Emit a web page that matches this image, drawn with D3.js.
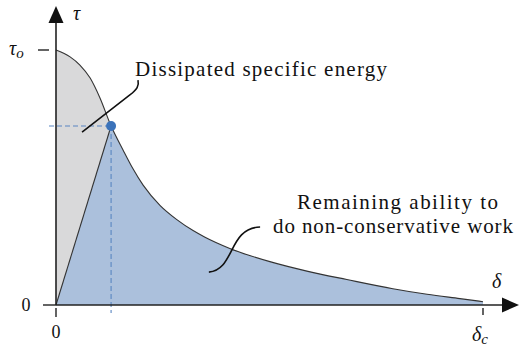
<!DOCTYPE html>
<html><head><meta charset="utf-8">
<script src="https://cdn.jsdelivr.net/npm/d3@7"></script>
<style>
html,body{margin:0;padding:0;background:#fff;}
</style></head>
<body>
<svg id="chart" width="524" height="349"></svg>
<script>
// normalized separation δ/δc and traction τ/τo
const delta = [0, 0.033, 0.056, 0.080, 0.103, 0.129, 0.157, 0.180, 0.204, 0.244, 0.283, 0.321, 0.349, 0.407, 0.501, 0.590, 0.681, 0.789, 0.869, 0.946, 1.0];
const tau   = [1.0, 0.973, 0.941, 0.890, 0.812, 0.702, 0.608, 0.535, 0.470, 0.390, 0.335, 0.292, 0.266, 0.222, 0.170, 0.132, 0.100, 0.064, 0.042, 0.025, 0.013];
const peakIndex = 5;
const xTickLabels = ["0", "δc"];
const yTickLabels = ["0", "τo"];
const labels = ["Dissipated specific energy", "Remaining ability to", "do non-conservative work"];

const svg = d3.select("#chart");
const x = d3.scaleLinear().domain([0, 1]).range([56, 483]);
const y = d3.scaleLinear().domain([0, 1]).range([305, 50]);
const pts = delta.map((d, i) => [d, tau[i]]);
const peak = pts[peakIndex];

const curve = d3.curveMonotoneX;
const area = d3.area().x(d => x(d[0])).y0(y(0)).y1(d => y(d[1])).curve(curve);
const line = d3.line().x(d => x(d[0])).y(d => y(d[1])).curve(curve);

const defs = svg.append("defs");
defs.append("clipPath").attr("id", "left").append("rect")
  .attr("x", x(0)).attr("y", 0).attr("width", x(peak[0]) - x(0)).attr("height", 349);
defs.append("clipPath").attr("id", "right").append("rect")
  .attr("x", x(peak[0])).attr("y", 0).attr("width", 524).attr("height", 349);

const gray = "#d9d9da", blue = "#abc0dc", dot = "#3b73ba";

svg.append("path").attr("d", area(pts)).attr("fill", gray).attr("clip-path", "url(#left)");
svg.append("path").attr("d", area(pts)).attr("fill", blue).attr("clip-path", "url(#right)");
svg.append("path")
  .attr("d", d3.line().x(d => x(d[0])).y(d => y(d[1]))([[0, 0], peak, [peak[0], 0]]) + "Z")
  .attr("fill", blue);

// curve
svg.append("path").attr("d", line(pts)).attr("fill", "none").attr("stroke", "#333").attr("stroke-width", 1.1);
// elastic line
svg.append("line").attr("x1", x(0)).attr("y1", y(0)).attr("x2", x(peak[0])).attr("y2", y(peak[1]))
  .attr("stroke", "#333").attr("stroke-width", 1.1);

// dashed guides
svg.append("line").attr("x1", x(0) - 7).attr("x2", x(peak[0])).attr("y1", y(peak[1])).attr("y2", y(peak[1]))
  .attr("stroke", "#5a86c2").attr("stroke-width", 1.1).attr("stroke-dasharray", "5,3");
svg.append("line").attr("x1", x(peak[0])).attr("x2", x(peak[0])).attr("y1", y(peak[1])).attr("y2", y(0) + 8)
  .attr("stroke", "#5a86c2").attr("stroke-width", 1.1).attr("stroke-dasharray", "5,3");

// axes
svg.append("line").attr("x1", x(0)).attr("x2", 505).attr("y1", y(0)).attr("y2", y(0)).attr("stroke", "#222").attr("stroke-width", 1.6);
svg.append("line").attr("x1", x(0)).attr("x2", x(0)).attr("y1", y(0)).attr("y2", 20).attr("stroke", "#222").attr("stroke-width", 1.6);
svg.append("path").attr("d", `M519,${y(0)} L502,${y(0) - 7.5} L502,${y(0) + 7.5} Z`).attr("fill", "#111");
svg.append("path").attr("d", `M${x(0)},6 L${x(0) - 7.5},23 L${x(0) + 7.5},23 Z`).attr("fill", "#111");

// ticks
svg.append("line").attr("x1", x(0) - 13).attr("x2", x(0)).attr("y1", y(0)).attr("y2", y(0)).attr("stroke", "#222").attr("stroke-width", 1.4);
svg.append("line").attr("x1", x(0) - 18).attr("x2", x(0) - 7).attr("y1", y(1)).attr("y2", y(1)).attr("stroke", "#222").attr("stroke-width", 1.4);
svg.append("line").attr("x1", x(0)).attr("x2", x(0)).attr("y1", y(0) + 3).attr("y2", y(0) + 12).attr("stroke", "#222").attr("stroke-width", 1.4);
svg.append("line").attr("x1", x(1)).attr("x2", x(1)).attr("y1", y(0) + 3).attr("y2", y(0) + 10).attr("stroke", "#222").attr("stroke-width", 1.4);

// point
svg.append("circle").attr("cx", x(peak[0])).attr("cy", y(peak[1])).attr("r", 5).attr("fill", dot);

function txt(xp, yp, size) {
  return svg.append("text").attr("x", xp).attr("y", yp)
    .attr("font-family", "serif")
    .style("font-family", "serif").style("font-size", size + "px").style("fill", "#111");
}

// tick labels
txt(26, y(0) + 6, 18).attr("text-anchor", "middle").text(yTickLabels[0]);
txt(x(0), y(0) + 33, 18).attr("text-anchor", "middle").text(xTickLabels[0]);
const t1 = txt(9, y(1) + 5, 20).style("font-style", "italic");
t1.append("tspan").text(yTickLabels[1][0]);
t1.append("tspan").style("font-size", "15px").attr("dy", 3).text(yTickLabels[1][1]);
const t2 = txt(472, y(0) + 36, 20).style("font-style", "italic");
t2.append("tspan").text(xTickLabels[1][0]);
t2.append("tspan").style("font-size", "15px").attr("dy", 3).text(xTickLabels[1][1]);

// axis names
txt(73, 20, 20).style("font-style", "italic").text("τ");
txt(492, 288, 20).style("font-style", "italic").text("δ");

// annotations (anchor points in data units)
const lead1 = [[0.061, 0.678], [0.173, 0.824], [0.190, 0.845], [0.195, 0.860], [0.192, 0.882]];
const lead2 = [[0.358, 0.129], [0.419, 0.137], [0.403, 0.302], [0.478, 0.306]];
const p = lead1.map(d => [x(d[0]), y(d[1])]);
svg.append("path").attr("d", `M${p[0]} L${p[1]} C${p[2]} ${p[3]} ${p[4]}`).attr("fill", "none").attr("stroke", "#111").attr("stroke-width", 1.6);
const q = lead2.map(d => [x(d[0]), y(d[1])]);
svg.append("path").attr("d", `M${q[0]} C${q[1]} ${q[2]} ${q[3]}`).attr("fill", "none").attr("stroke", "#111").attr("stroke-width", 1.6);

txt(135, 76, 21).attr("textLength", 252).attr("lengthAdjust", "spacing").text(labels[0]);
txt(297, 209, 21).attr("textLength", 201).attr("lengthAdjust", "spacing").text(labels[1]);
txt(273, 233, 21).attr("textLength", 240).attr("lengthAdjust", "spacing").text(labels[2]);
</script>
</body></html>
